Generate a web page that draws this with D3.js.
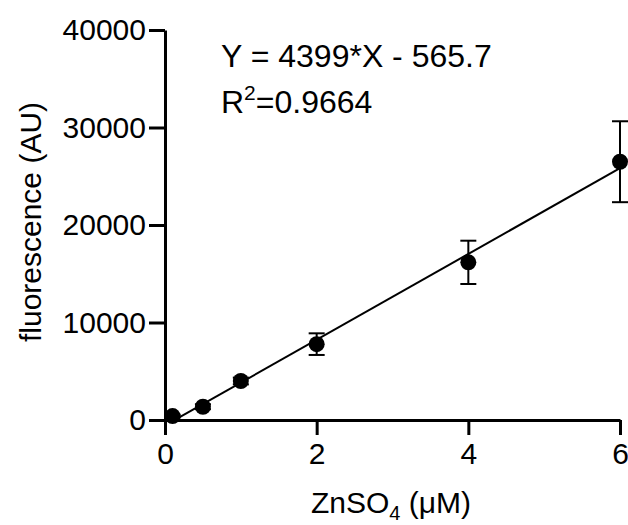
<!DOCTYPE html>
<html>
<head>
<meta charset="utf-8">
<script src="https://cdn.jsdelivr.net/npm/d3@7"></script>
<style>
  html, body { margin: 0; padding: 0; background: #fff; }
  svg text { font-family: "Liberation Sans", Arial, Helvetica, sans-serif; fill: #000; }
</style>
</head>
<body>
<div id="chart"></div>
<script>
// Data
const concentrations = [0.1, 0.5, 1, 2, 4, 6]          // ZnSO4 (uM)
const fluorescence = [400, 1360, 4000, 7780, 16170, 26490]
const errors = [150, 250, 350, 1110, 2220, 4150]        // SD
const xTicks = [0, 2, 4, 6]
const yTicks = [0, 10000, 20000, 30000, 40000]
const slope = 4399
const intercept = -565.7
const equationText = "Y = 4399*X - 565.7"
const rSquaredText = "=0.9664"

const width = 628
const height = 525

const svg = d3.select("#chart")
  .append("svg")
  .attr("width", width)
  .attr("height", height)

const x = d3.scaleLinear().domain([0, 6]).range([165, 620])
const y = d3.scaleLinear().domain([0, 40000]).range([420, 30])

// Axes (GraphPad style: plain integers, long ticks)
const xAxis = svg.append("g")
  .attr("transform", `translate(0,${y(0)})`)
  .call(d3.axisBottom(x).tickValues(xTicks).tickFormat(d3.format("d"))
    .tickSize(15).tickSizeOuter(0).tickPadding(8))

const yAxis = svg.append("g")
  .attr("transform", `translate(${x(0)},0)`)
  .call(d3.axisLeft(y).tickValues(yTicks).tickFormat(d3.format("d"))
    .tickSize(16).tickSizeOuter(0).tickPadding(3))

;[xAxis, yAxis].forEach(axis => {
  axis.select(".domain").attr("stroke-width", 3).attr("stroke", "#000")
  axis.selectAll(".tick line").attr("stroke-width", 3).attr("stroke", "#000")
  axis.selectAll(".tick text")
    .attr("font-size", 30)
    .attr("font-family", "Liberation Sans, Arial, sans-serif")
    .attr("fill", "#000")
})

// Regression line over the data range
const xExtent = d3.extent(concentrations)
svg.append("line")
  .attr("x1", x(xExtent[0]))
  .attr("y1", y(slope * xExtent[0] + intercept))
  .attr("x2", x(xExtent[1]))
  .attr("y2", y(slope * xExtent[1] + intercept))
  .attr("stroke", "#000")
  .attr("stroke-width", 2)

const points = concentrations.map((c, i) => ({ x: c, y: fluorescence[i], err: errors[i] }))

// Error bars
const bars = svg.append("g")
  .selectAll("g")
  .data(points)
  .join("g")
  .attr("stroke", "#000")
  .attr("stroke-width", 2)

bars.append("line")
  .attr("x1", d => x(d.x))
  .attr("x2", d => x(d.x))
  .attr("y1", d => y(d.y + d.err))
  .attr("y2", d => y(d.y - d.err))

bars.append("line")
  .attr("x1", d => x(d.x) - 8)
  .attr("x2", d => x(d.x) + 8)
  .attr("y1", d => y(d.y + d.err))
  .attr("y2", d => y(d.y + d.err))

bars.append("line")
  .attr("x1", d => x(d.x) - 8)
  .attr("x2", d => x(d.x) + 8)
  .attr("y1", d => y(d.y - d.err))
  .attr("y2", d => y(d.y - d.err))

// Markers
svg.append("g")
  .selectAll("circle")
  .data(points)
  .join("circle")
  .attr("cx", d => x(d.x))
  .attr("cy", d => y(d.y))
  .attr("r", 8)
  .attr("fill", "#000")

// Equation and R squared
svg.append("text")
  .attr("x", 221)
  .attr("y", 67)
  .attr("font-size", 32)
  .text(equationText)

const r2 = svg.append("text")
  .attr("x", 221)
  .attr("y", 113)
  .attr("font-size", 32)
r2.append("tspan").text("R")
r2.append("tspan").attr("font-size", 21).attr("dy", -13).text("2")
r2.append("tspan").attr("dy", 13).text(rSquaredText)

// Axis titles
const xTitle = svg.append("text")
  .attr("x", 311)
  .attr("y", 513)
  .attr("font-size", 30)
xTitle.append("tspan").text("ZnSO")
xTitle.append("tspan").attr("font-size", 20).attr("dy", 7).text("4")
xTitle.append("tspan").attr("dy", -7).text(" (\u03bcM)")

svg.append("text")
  .attr("transform", "translate(41,222) rotate(-90)")
  .attr("text-anchor", "middle")
  .attr("font-size", 30)
  .text("fluorescence (AU)")
</script>
</body>
</html>
